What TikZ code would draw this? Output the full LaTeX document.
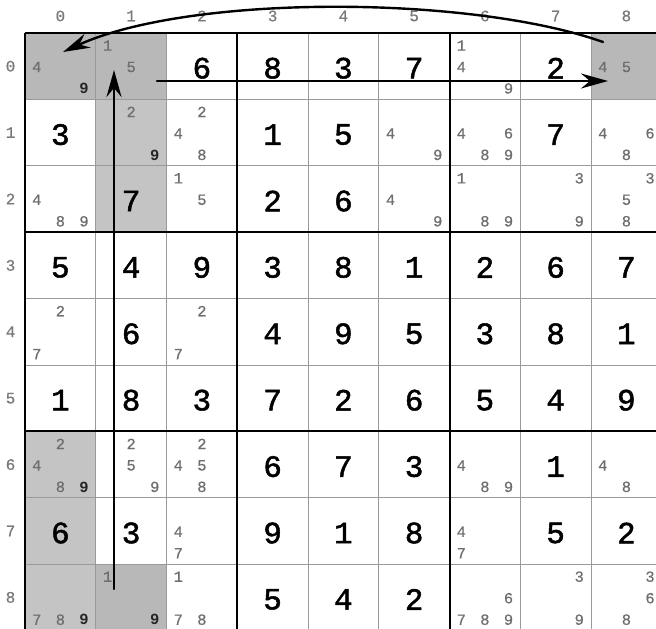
\documentclass[tikz,border=0pt]{standalone}
\usepackage{fontspec}
\setmonofont{Liberation Mono}
\newfontfamily\solvedfont[FakeBold=1.6]{Liberation Mono}
\newfontfamily\candfont[FakeBold=0.6]{Liberation Mono}
\usepackage{tikz}
\usetikzlibrary{arrows.meta}
\definecolor{givenfill}{HTML}{B8B8B8}
\definecolor{chainfill}{HTML}{C4C4C4}
\definecolor{thingray}{HTML}{9A9A9A}
\definecolor{candgray}{HTML}{6E6E6E}
\definecolor{labelgray}{HTML}{7A7A7A}
\tikzset{
  % --- cell contents ---
  solved/.style={font=\solvedfont\fontsize{31}{31}\selectfont, inner sep=0pt},
  cand/.style={font=\candfont\fontsize{15.5}{15.5}\selectfont, text=candgray,
               inner sep=0pt},
  candhi/.style={cand, text=black!85, font=\ttfamily\bfseries\fontsize{15.5}{15.5}\selectfont},
  axislabel/.style={font=\candfont\fontsize{16}{16}\selectfont, text=labelgray},
  % --- grid ---
  thinline/.style={draw=thingray, line width=1pt},
  boxline/.style={draw=black, line width=2pt},
  % --- chain arrows ---
  chain/.style={line width=2.4pt, line cap=round,
                -{Stealth[length=27pt,width=15pt,inset=9pt]}},
}
\newcommand{\cellw}{70.75}
\newcommand{\cellh}{66.4}

\begin{document}
\begin{tikzpicture}[x=1pt,y=-1pt]
  \useasboundingbox (0,0) rectangle (656,629);
  \clip (0,0) rectangle (656,629);

  % --- shaded cells ---
  \foreach \r/\c in {0/0,0/1,0/8,8/1}
    \fill[givenfill] ({25+\c*\cellw},{33+\r*\cellh}) rectangle ++(\cellw,\cellh);
  \foreach \r/\c in {1/1,2/1,6/0,7/0,8/0}
    \fill[chainfill] ({25+\c*\cellw},{33+\r*\cellh}) rectangle ++(\cellw,\cellh);

  % --- grid lines ---
  \foreach \i in {1,2,4,5,7,8} {
    \draw[thinline] ({25+\i*\cellw},33) -- ++(0,{9*\cellh});
    \draw[thinline] (25,{33+\i*\cellh}) -- ++({9*\cellw},0);
  }
  \foreach \i in {0,3,6,9} {
    \draw[boxline] ({25+\i*\cellw},33) -- ++(0,{9*\cellh});
    \draw[boxline] (25,{33+\i*\cellh}) -- ++({9*\cellw},0);
  }

  % --- row and column labels ---
  \foreach \i in {0,...,8} {
    \node[axislabel] (col-\i) at ({25+(\i+0.5)*\cellw},16) {\i};
    \node[axislabel] (row-\i) at (10.5,{33+(\i+0.5)*\cellh}) {\i};
  }

  % --- solved cells (0 = open) ---
  \foreach \r/\row in {0/{0,0,6,8,3,7,0,2,0}, 1/{3,0,0,1,5,0,0,7,0},
                       2/{0,7,0,2,6,0,0,0,0}, 3/{5,4,9,3,8,1,2,6,7},
                       4/{0,6,0,4,9,5,3,8,1}, 5/{1,8,3,7,2,6,5,4,9},
                       6/{0,0,0,6,7,3,0,1,0}, 7/{6,3,0,9,1,8,0,5,2},
                       8/{0,0,0,5,4,2,0,0,0}}
    \foreach \v [count=\c from 0] in \row {
      \ifnum\v>0
        \node[solved] (val-\r-\c) at ({25+(\c+0.5)*\cellw},{35+(\r+0.5)*\cellh}) {\v};
      \fi
    };

  % --- candidates ---
  \foreach \r/\c/\ds in {0/0/{4}, 0/1/{1,5}, 0/6/{1,4,9}, 0/8/{4,5},
                         1/1/{2}, 1/2/{2,4,8}, 1/5/{4,9}, 1/6/{4,6,8,9}, 1/8/{4,6,8},
                         2/0/{4,8,9}, 2/2/{1,5}, 2/5/{4,9}, 2/6/{1,8,9}, 2/7/{3,9},
                         2/8/{3,5,8}, 4/0/{2,7}, 4/2/{2,7},
                         6/0/{2,4,8}, 6/1/{2,5,9}, 6/2/{2,4,5,8}, 6/6/{4,8,9}, 6/8/{4,8},
                         7/2/{4,7}, 7/6/{4,7},
                         8/0/{7,8}, 8/1/{1}, 8/2/{1,7,8}, 8/6/{6,7,8,9}, 8/7/{3,9},
                         8/8/{3,6,8}}
    \foreach \d in \ds {
      \pgfmathsetmacro\candx{25+\c*\cellw+11.8+23.6*mod(\d-1,3)}
      \pgfmathsetmacro\candy{33+\r*\cellh+12.5+21.5*int((\d-1)/3)}
      \node[cand] (cand-\r-\c-\d) at (\candx,\candy) {\d};
    };
  % highlighted 9s
  \foreach \r/\c in {0/0,1/1,6/0,8/0,8/1}
    \node[candhi] (hi-\r-\c) at ({25+\c*\cellw+59},{33+\r*\cellh+55.5}) {9};

  % --- chain arrows ---
  \coordinate (coltail) at (114,589);
  \coordinate (colhead) at (114,70);
  \coordinate (rowtail) at (157,81);
  \coordinate (rowhead) at (608,81);
  \coordinate (looptail) at (603,42);
  \coordinate (loophead) at (63,52);
  \draw[chain] (coltail) -- (colhead);
  \draw[chain] (rowtail) -- (rowhead);
  \draw[chain] (looptail) .. controls (470,-5) and (190,-6) .. (loophead);
\end{tikzpicture}
\end{document}
